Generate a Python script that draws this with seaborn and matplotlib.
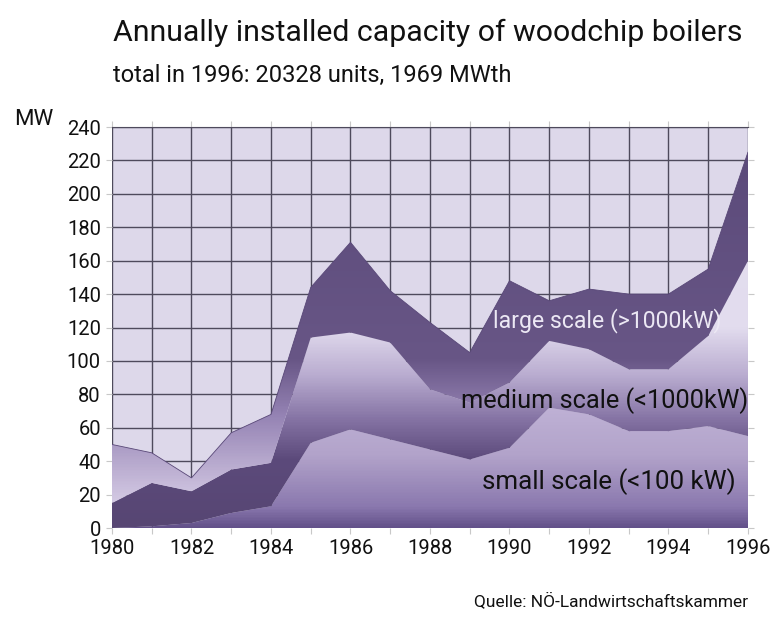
import numpy as np
import matplotlib
matplotlib.use("Agg")
import matplotlib.pyplot as plt
import seaborn as sns
from matplotlib.colors import LinearSegmentedColormap
from matplotlib.patches import PathPatch

# data (MW per year)
years = list(range(1980, 1997))
small = [0, 1, 3, 9, 13, 51, 59, 53, 47, 41, 48, 72, 68, 58, 58, 61, 55]
medium = [15, 26, 19, 26, 26, 63, 58, 58, 36, 34, 39, 40, 39, 37, 37, 54, 105]
large = [35, 18, 8, 22, 29, 30, 54, 31, 40, 30, 61, 24, 36, 45, 45, 40, 65]
labels = ["small scale (<100 kW)", "medium scale (<1000kW)", "large scale (>1000kW)"]
yticks = list(range(0, 241, 20))
xticks = list(range(1980, 1997, 2))

sns.set_style("white")
plt.rcParams["font.family"] = ["Roboto", "DejaVu Sans"]

fig = plt.figure(figsize=(7.74, 6.37), dpi=100)
ax = fig.add_axes([0.1447, 0.1711, 0.8217, 0.6295])
ax.set_facecolor("#ddd8ea")

x = np.array(years, dtype=float)
s = np.array(small, dtype=float)
m = s + np.array(medium, dtype=float)
t = m + np.array(large, dtype=float)

# vertical gradients (value in MW -> colour)
grads = [
    (s * 0, s, [(0, "#63518a"), (0.05, "#8a78ae"), (0.18, "#b2a3ca"), (0.35, "#c4b7da"), (1, "#d4cae4")]),
    (s, m, [(0, "#574673"), (0.17, "#5c4a7b"), (0.27, "#8573a4"), (0.38, "#b9acd0"), (0.5, "#e2dcee"), (1, "#e6e1f0")]),
    (m, t, [(0, "#e0d8ec"), (0.08, "#cfc4e0"), (0.28, "#9583b4"), (0.42, "#685686"), (1, "#5a4979")]),
]
ygrid = np.linspace(0, 240, 400).reshape(-1, 1)
for lo, hi, stops in grads:
    cmap = LinearSegmentedColormap.from_list("g", stops)
    poly = ax.fill_between(x, lo, hi, color="none", lw=0)
    patch = PathPatch(poly.get_paths()[0], transform=ax.transData, facecolor="none", edgecolor="none")
    ax.add_patch(patch)
    im = ax.imshow(ygrid, extent=[1980, 1996, 0, 240], origin="lower", aspect="auto",
                   cmap=cmap, vmin=0, vmax=240, zorder=2)
    im.set_clip_path(patch)

sns.lineplot(x=years, y=t, ax=ax, color="#584777", lw=0.6, zorder=3)

ax.set_xlim(1980, 1996)
ax.set_ylim(0, 240)
ax.set_xticks(years)
ax.set_xticklabels([str(y) if y in xticks else "" for y in years])
ax.set_yticks(yticks)
ax.grid(True, color="#4e4a5c", lw=1.0, zorder=1)
ax.set_axisbelow(True)
for side in ["left", "right", "bottom"]:
    ax.spines[side].set_visible(False)
ax.spines["top"].set_color("#4e4a5c")
ax.tick_params(axis="both", which="both", top=True, right=True, bottom=True, left=True,
               length=4, color="#c8c8c8", labelsize=14.5, labelcolor="#111111", pad=4)

ax.text(1992.45, 124, labels[2], color="#ece8f4", fontsize=16.6, ha="center", va="center", zorder=5)
ax.text(1992.4, 76.5, labels[1], color="#111111", fontsize=18.3, ha="center", va="center", zorder=5)
ax.text(1992.5, 27.5, labels[0], color="#111111", fontsize=18.6, ha="center", va="center", zorder=5)

fig.text(0.146, 0.948, "Annually installed capacity of woodchip boilers", fontsize=21.8, color="#111111",
         ha="left", va="center")
fig.text(0.146, 0.882, "total in 1996: 20328 units, 1969 MWth", fontsize=17, color="#111111",
         ha="left", va="center")
fig.text(0.018, 0.812, "MW", fontsize=16, color="#111111", ha="left", va="center")
fig.text(0.966, 0.057, "Quelle: NÖ-Landwirtschaftskammer", fontsize=12.5, color="#111111",
         ha="right", va="center")

fig.savefig("out.png", dpi=100, facecolor="white")
